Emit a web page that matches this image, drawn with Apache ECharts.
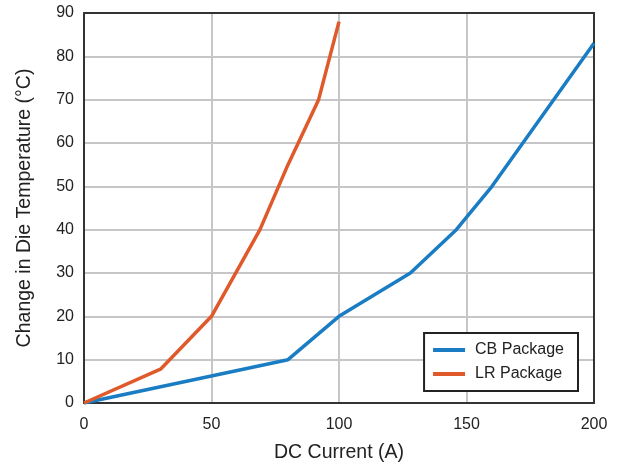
<!DOCTYPE html>
<html><head><meta charset="utf-8">
<script src="https://cdn.jsdelivr.net/npm/echarts@6/dist/echarts.min.js"></script>
<style>html,body{margin:0;padding:0;background:#fff}#c{width:619px;height:469px}</style>
</head><body><div id="c"></div>
<script>
const cbCurrent = [0, 80, 100, 128, 146, 160, 200];
const cbTemp    = [0, 10, 20, 30, 40, 50, 83];
const lrCurrent = [0, 30, 50, 69, 80, 92, 100];
const lrTemp    = [0, 7.8, 20, 40, 55, 70, 88];
const seriesNames = ['CB Package', 'LR Package'];
const xTitle = 'DC Current (A)';
const yTitle = 'Change in Die Temperature (°C)';

const zip = (a, b) => a.map((v, i) => [v, b[i]]);
const font = 'Liberation Sans, Arial, sans-serif';
const frame = {show: true, onZero: false, lineStyle: {color: '#333', width: 2}};
const chart = echarts.init(document.getElementById('c'), null, {renderer: 'canvas'});
chart.setOption({
  animation: false,
  grid: {left: 84, right: 25, top: 13, bottom: 66},
  legend: {
    right: 41, top: 333, orient: 'vertical', itemGap: 8, z: 10,
    backgroundColor: '#fff',
    borderColor: '#222', borderWidth: 2, padding: [9, 14, 9, 9],
    icon: 'rect', itemWidth: 32, itemHeight: 4,
    textStyle: {fontFamily: font, fontSize: 16, color: '#222', padding: [0, 0, 0, 5]},
    data: seriesNames
  },
  xAxis: [{
    type: 'value', min: 0, max: 200, interval: 50,
    name: xTitle, nameLocation: 'middle', nameGap: 40,
    nameTextStyle: {fontFamily: font, fontSize: 19.5, color: '#222'},
    axisLine: frame,
    axisTick: {show: false},
    axisLabel: {fontFamily: font, fontSize: 16, color: '#222', margin: 14},
    splitLine: {show: true, lineStyle: {color: '#c6c6c8', width: 2}}
  }, {
    type: 'value', min: 0, max: 200, position: 'top',
    axisLine: frame, axisTick: {show: false}, axisLabel: {show: false}, splitLine: {show: false}
  }],
  yAxis: [{
    type: 'value', min: 0, max: 90, interval: 10,
    name: yTitle, nameLocation: 'middle', nameGap: 49,
    nameTextStyle: {fontFamily: font, fontSize: 19.5, color: '#222'},
    axisLine: frame,
    axisTick: {show: false},
    axisLabel: {fontFamily: font, fontSize: 16, color: '#222', margin: 10},
    splitLine: {show: true, lineStyle: {color: '#c6c6c8', width: 2}}
  }, {
    type: 'value', min: 0, max: 90, position: 'right',
    axisLine: frame, axisTick: {show: false}, axisLabel: {show: false}, splitLine: {show: false}
  }],
  series: [
    {name: seriesNames[0], type: 'line', data: zip(cbCurrent, cbTemp), showSymbol: false,
     lineStyle: {color: '#1a7dc4', width: 3.5}, itemStyle: {color: '#1a7dc4'}},
    {name: seriesNames[1], type: 'line', data: zip(lrCurrent, lrTemp), showSymbol: false,
     lineStyle: {color: '#e0592a', width: 3.5}, itemStyle: {color: '#e0592a'}}
  ]
});
</script></body></html>
